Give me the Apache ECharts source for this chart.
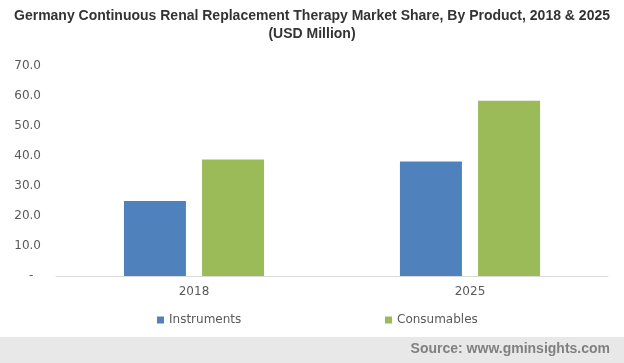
<!DOCTYPE html>
<html><head><meta charset="utf-8">
<script src="https://cdn.jsdelivr.net/npm/echarts@6/dist/echarts.min.js"></script>
<style>html,body{margin:0;padding:0;background:#fff}#c{width:624px;height:363px}</style>
</head><body><div id="c"></div>
<script>
var categories = ['2018', '2025'];
var instruments = [25.0, 38.2];
var consumables = [38.8, 58.4];
var seriesNames = ['Instruments', 'Consumables'];
var titleText = 'Germany Continuous Renal Replacement Therapy Market Share, By Product, 2018 & 2025\n(USD Million)';
var sourceText = 'Source: www.gminsights.com';

var chart = echarts.init(document.getElementById('c'), null, {renderer: 'canvas'});
var txt = '#595959';
chart.setOption({
  animation: false,
  title: {
    text: titleText, left: 'center', top: 2,
    textStyle: {fontFamily: 'Liberation Sans, Arial', fontWeight: 'bold', fontSize: 14, color: '#333', lineHeight: 18}
  },
  legend: [
    {data: [seriesNames[0]], left: 152, top: 309, itemWidth: 7, itemHeight: 7, itemGap: 4,
     textStyle: {fontFamily: 'DejaVu Sans, Verdana', fontSize: 12, color: txt}, icon: 'rect'},
    {data: [seriesNames[1]], left: 380, top: 309, itemWidth: 7, itemHeight: 7, itemGap: 4,
     textStyle: {fontFamily: 'DejaVu Sans, Verdana', fontSize: 12, color: txt}, icon: 'rect'}
  ],
  grid: {left: 56, right: 16, top: 66, bottom: 87, containLabel: false},
  xAxis: {
    type: 'category', data: categories,
    axisLine: {lineStyle: {color: '#d9d9d9', width: 1}},
    axisTick: {show: false},
    axisLabel: {color: txt, fontFamily: 'DejaVu Sans, Verdana', fontSize: 12, margin: 10}
  },
  yAxis: {
    type: 'value', min: 0, max: 70, interval: 10,
    splitLine: {show: false}, axisLine: {show: false}, axisTick: {show: false},
    axisLabel: {color: txt, fontFamily: 'DejaVu Sans, Verdana', fontSize: 12, margin: 15,
      formatter: function (v) { return v === 0 ? '-  ' : v.toFixed(1); }}
  },
  series: [
    {name: seriesNames[0], type: 'bar', data: instruments, itemStyle: {color: '#4f81bd'},
     barWidth: 62, barGap: '26%'},
    {name: seriesNames[1], type: 'bar', data: consumables, itemStyle: {color: '#9bbb59'},
     barWidth: 62, barGap: '26%'}
  ],
  graphic: [
    {type: 'rect', left: 0, top: 337, shape: {width: 624, height: 26}, style: {fill: '#e8e8e8'}, silent: true},
    {type: 'text', right: 14, top: 342, style: {text: sourceText, fill: '#808080', fontFamily: 'Liberation Sans, Arial', fontWeight: 'bold', fontSize: 14}}
  ]
});
</script></body></html>
